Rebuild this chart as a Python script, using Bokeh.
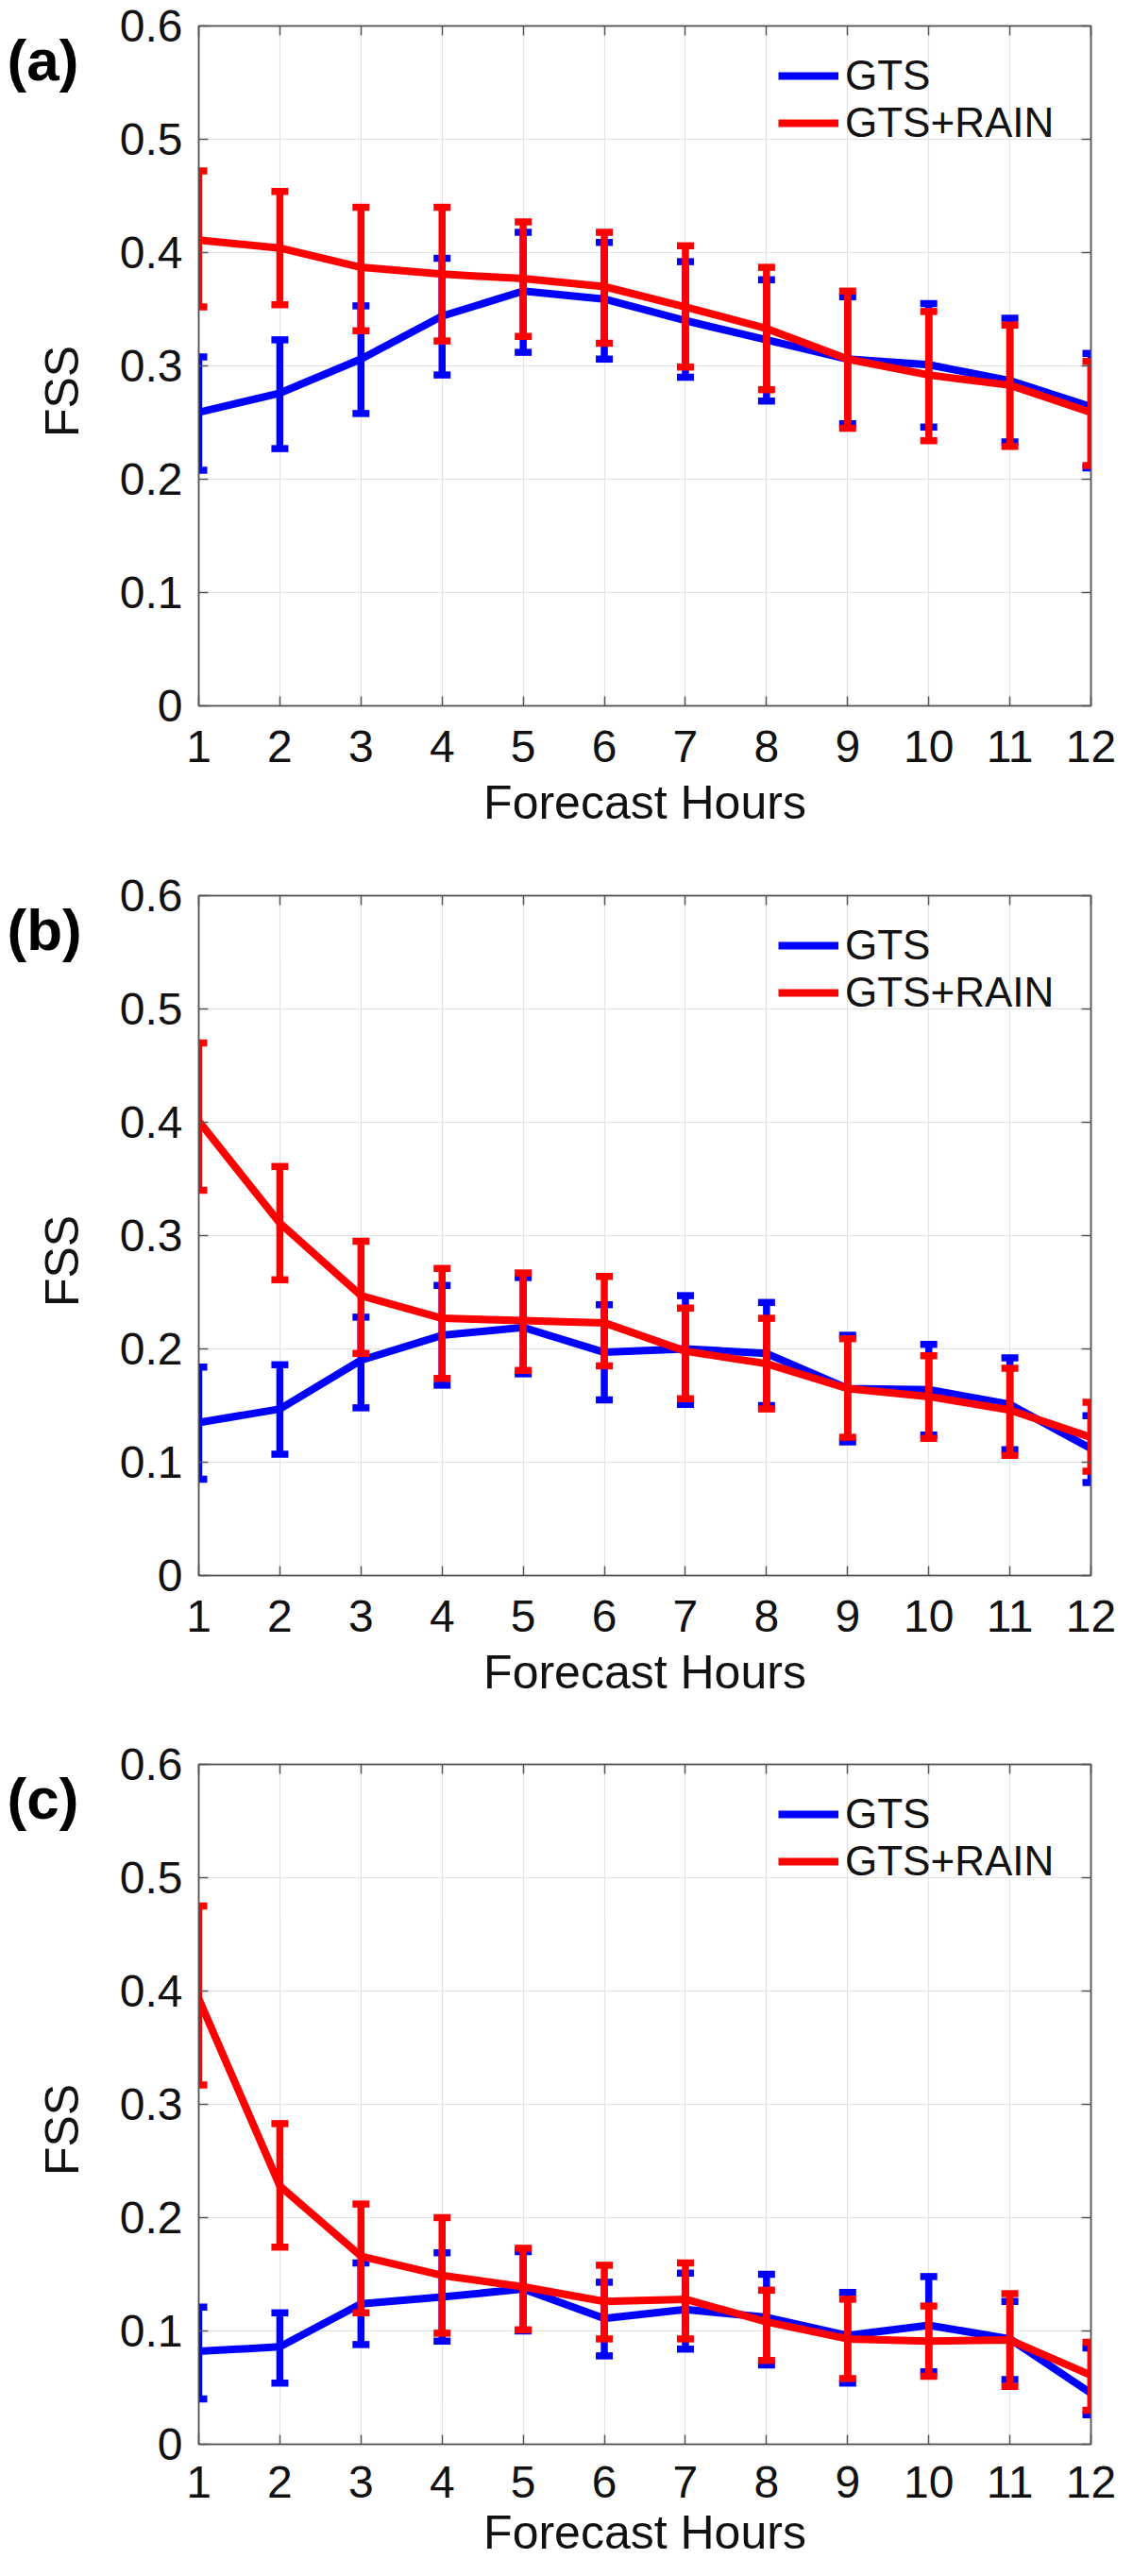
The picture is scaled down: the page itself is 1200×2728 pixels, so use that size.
import math
from bokeh.plotting import figure
from bokeh.models import FixedTicker, LinearAxis, Legend, LegendItem, Label, Range1d
from bokeh.layouts import column, row
from bokeh.embed import file_html
from bokeh.resources import INLINE

# ---------------- data ----------------
hours = [1, 2, 3, 4, 5, 6, 7, 8, 9, 10, 11, 12]
y_ticks = [0, 0.1, 0.2, 0.3, 0.4, 0.5, 0.6]
y_tick_labels = ["0", "0.1", "0.2", "0.3", "0.4", "0.5", "0.6"]
x_tick_labels = [str(h) for h in hours]
panel_tags = ["(a)", "(b)", "(c)"]
series_names = ["GTS", "GTS+RAIN"]
x_title = "Forecast Hours"
y_title = "FSS"

# panel (a)
gts_a = [0.259, 0.276, 0.306, 0.344, 0.366, 0.359, 0.340, 0.323, 0.306, 0.301, 0.287, 0.264]
gts_a_hi = [0.308, 0.323, 0.353, 0.395, 0.418, 0.409, 0.392, 0.376, 0.361, 0.355, 0.342, 0.311]
gts_a_lo = [0.208, 0.227, 0.258, 0.292, 0.312, 0.306, 0.290, 0.269, 0.249, 0.246, 0.233, 0.210]
rain_a = [0.411, 0.404, 0.387, 0.381, 0.377, 0.370, 0.352, 0.333, 0.306, 0.292, 0.283, 0.259]
rain_a_hi = [0.472, 0.454, 0.440, 0.440, 0.427, 0.418, 0.406, 0.387, 0.366, 0.348, 0.336, 0.304]
rain_a_lo = [0.352, 0.354, 0.331, 0.322, 0.326, 0.320, 0.299, 0.279, 0.245, 0.234, 0.229, 0.212]

# panel (b)
gts_b = [0.135, 0.147, 0.190, 0.212, 0.219, 0.197, 0.200, 0.196, 0.165, 0.164, 0.151, 0.112]
gts_b_hi = [0.184, 0.186, 0.228, 0.256, 0.263, 0.239, 0.247, 0.241, 0.212, 0.204, 0.192, 0.141]
gts_b_lo = [0.085, 0.107, 0.148, 0.168, 0.178, 0.155, 0.151, 0.150, 0.118, 0.124, 0.111, 0.082]
rain_b = [0.401, 0.311, 0.247, 0.227, 0.225, 0.223, 0.198, 0.187, 0.165, 0.158, 0.146, 0.122]
rain_b_hi = [0.470, 0.361, 0.295, 0.271, 0.267, 0.264, 0.236, 0.227, 0.209, 0.194, 0.183, 0.153]
rain_b_lo = [0.340, 0.261, 0.196, 0.174, 0.181, 0.185, 0.156, 0.147, 0.122, 0.121, 0.106, 0.092]

# panel (c)
gts_c = [0.082, 0.086, 0.124, 0.130, 0.137, 0.111, 0.119, 0.112, 0.096, 0.105, 0.093, 0.045]
gts_c_hi = [0.121, 0.116, 0.160, 0.169, 0.170, 0.143, 0.151, 0.150, 0.134, 0.148, 0.126, 0.085]
gts_c_lo = [0.040, 0.054, 0.088, 0.091, 0.100, 0.078, 0.084, 0.070, 0.054, 0.064, 0.057, 0.026]
rain_c = [0.393, 0.228, 0.166, 0.149, 0.139, 0.126, 0.128, 0.108, 0.093, 0.091, 0.092, 0.061]
rain_c_hi = [0.475, 0.283, 0.212, 0.200, 0.173, 0.158, 0.160, 0.136, 0.128, 0.122, 0.133, 0.090]
rain_c_lo = [0.317, 0.174, 0.116, 0.098, 0.101, 0.093, 0.093, 0.074, 0.058, 0.060, 0.051, 0.030]

# ---------------- style / layout ----------------
FONT = "Liberation Sans"
BLUE = "#0000ff"
RED = "#ff0000"
AXIS_C = "#555555"
GRID_C = "#e2e2e2"
TEXT_C = "#111111"
LINE_W = 8
BAR_W = 7.5
CAP_SIZE = 18

FRAME_W = 945
FRAME_H = 720
TOP = 27
TAG_W = 102          # narrow strip left of each panel holding "(a)" and "FSS"
MAIN_LEFT = 108      # main figure left border (y tick labels)
HEIGHTS = [921, 920, 871]
X_MIN, X_MAX = 1, 12
Y_MIN, Y_MAX = 0, 0.6


def style_axis(ax, show_labels):
    ax.axis_line_color = AXIS_C
    ax.axis_line_width = 1.5
    ax.major_tick_line_color = AXIS_C
    ax.major_tick_line_width = 1.5
    ax.major_tick_in = 10
    ax.major_tick_out = 0
    ax.minor_tick_line_color = None
    if show_labels:
        ax.major_label_text_font = FONT
        ax.major_label_text_font_size = "48px"
        ax.major_label_text_color = TEXT_C
    else:
        ax.major_label_text_font_size = "8px"
        ax.major_label_text_color = None
        ax.major_label_standoff = 0


def make_tag(tag, height):
    # pixel-unit strip: x from the left edge, y measured downward from the top edge
    t = figure(frame_width=TAG_W, frame_height=height,
               x_range=Range1d(0, TAG_W), y_range=Range1d(height, 0),
               x_axis_type=None, y_axis_type=None, output_backend="svg",
               toolbar_location=None, tools="", min_border=0, title=None)
    t.outline_line_color = None
    t.background_fill_color = "white"
    t.border_fill_color = "white"
    t.xgrid.visible = False
    t.ygrid.visible = False
    # panel tag, centred about 9 px below the panel frame top
    t.add_layout(Label(x=7, y=TOP + 9, text=tag,
                       text_font=FONT, text_font_size="62px", text_font_style="bold",
                       text_color="#000000", text_baseline="middle", text_align="left"))
    # y axis title, centred on the panel frame
    t.add_layout(Label(x=65, y=TOP + FRAME_H / 2, text=y_title, angle=math.pi / 2,
                       text_font=FONT, text_font_size="50px", text_color=TEXT_C,
                       text_baseline="middle", text_align="center"))
    return t


def make_panel(gts, gts_lo, gts_hi, rain, rain_lo, rain_hi, height, tick_standoff, label_standoff):
    p = figure(frame_width=FRAME_W, frame_height=FRAME_H,
               x_range=Range1d(X_MIN, X_MAX), y_range=Range1d(Y_MIN, Y_MAX),
               output_backend="svg", toolbar_location=None, tools="",
               min_border_left=MAIN_LEFT, min_border_right=28,
               min_border_top=TOP, min_border_bottom=height - TOP - FRAME_H)
    p.background_fill_color = "white"
    p.border_fill_color = "white"
    p.outline_line_color = AXIS_C
    p.outline_line_width = 1.5

    xt = FixedTicker(ticks=hours)
    yt = FixedTicker(ticks=y_ticks)

    p.xaxis.ticker = xt
    p.yaxis.ticker = yt
    p.xgrid.ticker = xt
    p.ygrid.ticker = yt
    for g in (p.xgrid, p.ygrid):
        g.grid_line_color = GRID_C
        g.grid_line_width = 1.2

    style_axis(p.xaxis[0], True)
    style_axis(p.yaxis[0], True)
    p.xaxis.major_label_overrides = {h: s for h, s in zip(hours, x_tick_labels)}
    p.yaxis.major_label_overrides = {t: s for t, s in zip(y_ticks, y_tick_labels)}
    p.xaxis.major_label_standoff = tick_standoff
    p.yaxis.major_label_standoff = 17

    p.xaxis.axis_label = x_title
    p.xaxis.axis_label_text_font = FONT
    p.xaxis.axis_label_text_font_size = "50px"
    p.xaxis.axis_label_text_font_style = "normal"
    p.xaxis.axis_label_text_color = TEXT_C
    p.xaxis.axis_label_standoff = label_standoff

    top_ax = LinearAxis(ticker=xt)
    right_ax = LinearAxis(ticker=yt)
    style_axis(top_ax, False)
    style_axis(right_ax, False)
    p.add_layout(top_ax, "above")
    p.add_layout(right_ax, "right")

    # GTS (blue) first, GTS+RAIN (red) on top
    renderers = []
    for color, mean, lo, hi in ((BLUE, gts, gts_lo, gts_hi), (RED, rain, rain_lo, rain_hi)):
        ln = p.line(hours, mean, line_color=color, line_width=LINE_W, line_join="round")
        p.segment(x0=hours, y0=lo, x1=hours, y1=hi, line_color=color, line_width=BAR_W)
        p.scatter(hours, lo, marker="dash", size=CAP_SIZE, line_color=color, line_width=BAR_W)
        p.scatter(hours, hi, marker="dash", size=CAP_SIZE, line_color=color, line_width=BAR_W)
        renderers.append(ln)

    legend = Legend(items=[LegendItem(label=series_names[0], renderers=[renderers[0]]),
                           LegendItem(label=series_names[1], renderers=[renderers[1]])],
                    location=(614, 592), orientation="vertical",
                    padding=0, margin=0, spacing=0,
                    glyph_width=64, glyph_height=50, label_height=50, label_standoff=7,
                    label_text_font=FONT, label_text_font_size="44px", label_text_color=TEXT_C,
                    background_fill_alpha=0, border_line_alpha=0)
    p.add_layout(legend, "center")
    return p


p1 = make_panel(gts_a, gts_a_lo, gts_a_hi, rain_a, rain_a_lo, rain_a_hi, HEIGHTS[0], 26, 12)
p2 = make_panel(gts_b, gts_b_lo, gts_b_hi, rain_b, rain_b_lo, rain_b_hi, HEIGHTS[1], 26, 12)
p3 = make_panel(gts_c, gts_c_lo, gts_c_hi, rain_c, rain_c_lo, rain_c_hi, HEIGHTS[2], 23, 6)

rows = [row(make_tag(tag, h), p, spacing=0) for tag, h, p in zip(panel_tags, HEIGHTS, (p1, p2, p3))]
page = column(*rows, spacing=0)
open("out.html", "w").write(file_html(page, INLINE))
